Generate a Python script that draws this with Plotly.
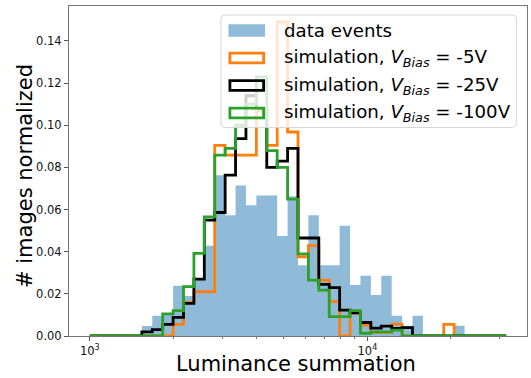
import numpy as np
import plotly.graph_objects as go

# 40 logarithmic bins between 1e3 and 10**4.5
bin_edges = np.logspace(3, 4.5, 41)

# normalized histogram contents (fraction of images per bin)
data_events = [0, 0, 0, 0, 0,
               0.0047, 0.0096, 0.0105, 0.0238, 0.0190,
               0.0270, 0.0428, 0.0763, 0.0573, 0.0714,
               0.0621, 0.0667, 0.0667, 0.0475, 0.0663,
               0.0336, 0.0573, 0.0336, 0.0336, 0.0523,
               0.0242, 0.0286, 0.0194, 0.0286, 0.0096,
               0.0049, 0.0096, 0, 0, 0,
               0.0049, 0, 0, 0, 0]
sim_5V = [0, 0, 0, 0, 0,
          0, 0, 0, 0.0055, 0.0160,
          0.0210, 0.0210, 0.0905, 0.0858, 0.0858,
          0.0858, 0.1070, 0.0905, 0.1490, 0.0968,
          0.0376, 0.0429, 0.0265, 0.0163, 0,
          0.0107, 0.0052, 0.0016, 0.0016, 0.0056,
          0, 0, 0, 0, 0.0055,
          0, 0, 0, 0, 0]
sim_25V = [0, 0, 0, 0, 0,
           0.0020, 0.0030, 0.0055, 0.0088, 0.0155,
           0.0270, 0.0550, 0.0586, 0.0763, 0.0937,
           0.1140, 0.1080, 0.0800, 0.0830, 0.0890,
           0.0465, 0.0465, 0.0245, 0.0230, 0.0123,
           0.0110, 0.0064, 0.0037, 0.0047, 0.0036,
           0.0040, 0, 0, 0, 0,
           0, 0, 0, 0, 0]
sim_100V = [0, 0, 0, 0, 0,
            0, 0, 0.0105, 0.0120, 0.0234,
            0.0392, 0.0565, 0.0858, 0.0890, 0.1000,
            0.1100, 0.1230, 0.0880, 0.0800, 0.0650,
            0.0390, 0.0265, 0.0218, 0.0092, 0.0092,
            0.0120, 0.0013, 0.0020, 0.0020, 0.0028,
            0, 0, 0, 0, 0,
            0, 0, 0, 0, 0]

y_ticks = [0.00, 0.02, 0.04, 0.06, 0.08, 0.10, 0.12, 0.14]
x_major = [1e3, 1e4]
x_major_text = ["10<sup>3</sup>", "10<sup>4</sup>"]
x_minor = [2e3, 3e3, 4e3, 5e3, 6e3, 7e3, 8e3, 9e3, 2e4, 3e4]

legend_labels = ["data events",
                 "simulation, <i>V</i><sub><i>Bias</i></sub> = -5V",
                 "simulation, <i>V</i><sub><i>Bias</i></sub> = -25V",
                 "simulation, <i>V</i><sub><i>Bias</i></sub> = -100V"]

BLUE_FILL = "rgba(31,119,180,0.5)"
ORANGE = "#ff7f0e"
BLACK = "#000000"
GREEN = "#2ca02c"
FONT = "DejaVu Sans"

W, H = 531, 378
ML, MR, MT, MB = 69, 4, 6, 42
PW, PH = W - ML - MR, H - MT - MB


def px(x):
    return (x - ML) / PW


def py(y):
    return (H - MB - y) / PH


def step_outline(edges, heights):
    xs = np.repeat(edges, 2)
    ys = np.concatenate([[0.0], np.repeat(np.asarray(heights, float), 2), [0.0]])
    return xs, ys


fig = go.Figure()

# filled histogram of the measured events
fx, fy = step_outline(bin_edges, data_events)
fig.add_trace(go.Scatter(x=fx, y=fy, mode="lines", fill="tozeroy",
                         fillcolor=BLUE_FILL, line=dict(width=0, color=BLUE_FILL),
                         showlegend=False, hoverinfo="skip"))

# step histograms of the simulations
for heights, color in [(sim_5V, ORANGE), (sim_25V, BLACK), (sim_100V, GREEN)]:
    sx, sy = step_outline(bin_edges, heights)
    fig.add_trace(go.Scatter(x=sx, y=sy, mode="lines",
                             line=dict(color=color, width=2.8),
                             showlegend=False, hoverinfo="skip"))

fig.update_layout(
    width=W, height=H,
    margin=dict(l=ML, r=MR, t=MT, b=MB, pad=0),
    paper_bgcolor="white", plot_bgcolor="white",
    font=dict(family=FONT, color="#000000"),
    showlegend=False,
)

lo, hi = 3 - 0.075, 4.5 + 0.075
fig.update_xaxes(type="log", range=[lo, hi],
                 showline=True, linecolor="#777777", linewidth=1, mirror=True,
                 showgrid=False, zeroline=False,
                 tickmode="array", tickvals=x_major, ticktext=x_major_text,
                 ticks="outside", ticklen=4, tickwidth=1, tickcolor="#555555",
                 tickfont=dict(size=11.5, family=FONT, color="#111111"),
                 minor=dict(tickmode="array", tickvals=x_minor, ticks="outside",
                            ticklen=2, tickwidth=1, tickcolor="#777777", showgrid=False))
fig.update_yaxes(range=[0, 0.1566],
                 showline=True, linecolor="#777777", linewidth=1, mirror=True,
                 showgrid=False, zeroline=False,
                 tickmode="array", tickvals=y_ticks, tickformat=".2f",
                 ticks="outside", ticklen=4, tickwidth=1, tickcolor="#555555",
                 tickfont=dict(size=11.5, family=FONT, color="#111111"))

# axis titles
fig.add_annotation(text="Luminance summation", xref="paper", yref="paper",
                   x=px(296), y=py(364), xanchor="center", yanchor="middle",
                   showarrow=False, font=dict(size=21, family=FONT, color="#000000"))
fig.add_annotation(text="# images normalized", xref="paper", yref="paper",
                   x=px(25), y=py(176), xanchor="center", yanchor="middle", textangle=-90,
                   showarrow=False, font=dict(size=21, family=FONT, color="#000000"))

# legend frame: rounded box, translucent white
bx0, bx1, by0, by1, r = 221, 516.5, 15, 127.5, 4


def rounded_box(x0, x1, y0, y1, rad):
    rx, ry = rad / PW, rad / PH
    X0, X1, Y0, Y1 = px(x0), px(x1), py(y1), py(y0)
    return (f"M {X0 + rx},{Y0} L {X1 - rx},{Y0} Q {X1},{Y0} {X1},{Y0 + ry} "
            f"L {X1},{Y1 - ry} Q {X1},{Y1} {X1 - rx},{Y1} L {X0 + rx},{Y1} "
            f"Q {X0},{Y1} {X0},{Y1 - ry} L {X0},{Y0 + ry} Q {X0},{Y0} {X0 + rx},{Y0} Z")


fig.add_shape(type="path", path=rounded_box(bx0, bx1, by0, by1, r),
              xref="paper", yref="paper", layer="above",
              fillcolor="rgba(255,255,255,0.8)", line=dict(color="#d6d6d6", width=1))

row_y = [30.5, 58, 85.5, 113]
hx0, hx1, hh = 228.5, 265, 12.6
handles = [("fill", BLUE_FILL), ("line", ORANGE), ("line", BLACK), ("line", GREEN)]
for (kind, color), yc, label in zip(handles, row_y, legend_labels):
    if kind == "fill":
        fig.add_shape(type="rect", xref="paper", yref="paper", layer="above",
                      x0=px(hx0), x1=px(hx1), y0=py(yc + hh / 2), y1=py(yc - hh / 2),
                      fillcolor=color, line=dict(width=0))
    else:
        inset = 1.4
        fig.add_shape(type="rect", xref="paper", yref="paper", layer="above",
                      x0=px(hx0 + inset), x1=px(hx1 - inset),
                      y0=py(yc + hh / 2 - inset), y1=py(yc - hh / 2 + inset),
                      fillcolor="rgba(0,0,0,0)", line=dict(color=color, width=2.8))
    fig.add_annotation(text=label, xref="paper", yref="paper",
                       x=px(281.5), y=py(yc), xanchor="left", yanchor="middle",
                       showarrow=False, font=dict(size=18.2, family=FONT, color="#000000"))

fig.write_html("out.html")
